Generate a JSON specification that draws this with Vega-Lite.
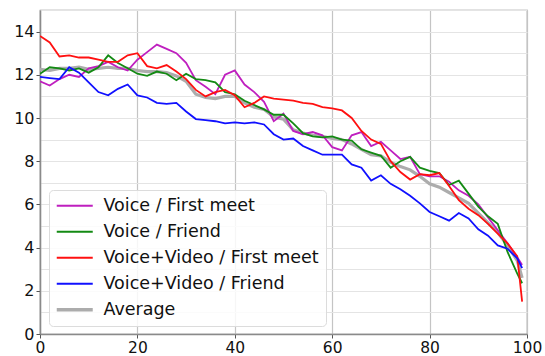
{
  "$schema": "https://vega.github.io/schema/vega-lite/v6.json",
  "width": 487,
  "height": 324,
  "autosize": {"type": "none"},
  "padding": {"left": 40, "top": 10, "right": 18, "bottom": 22},
  "background": "white",
  "config": {
    "font": "DejaVu Sans",
    "view": {"stroke": "#8a8a8a", "strokeWidth": 1.2},
    "axis": {
      "labelFont": "DejaVu Sans",
      "labelFontSize": 16,
      "labelColor": "#111",
      "labelFlush": false,
      "labelOverlap": false,
      "domainColor": "#8a8a8a",
      "domainWidth": 1.5,
      "tickColor": "#555",
      "tickSize": 4,
      "labelPadding": 2,
      "title": null
    },
    "legend": {
      "labelFont": "DejaVu Sans",
      "labelFontSize": 17.5,
      "labelColor": "#111",
      "labelLimit": 400,
      "title": null
    }
  },
  "data": {
    "values": [
      {"x": 0, "vf": 11.7, "vfr": 12.05, "vvf": 13.8, "vvfr": 11.9, "avg": 12.25},
      {"x": 2, "vf": 11.5, "vfr": 12.35, "vvf": 13.5, "vvfr": 11.85, "avg": 12.2},
      {"x": 4, "vf": 11.8, "vfr": 12.3, "vvf": 12.85, "vvfr": 11.8, "avg": 12.3},
      {"x": 6, "vf": 12.0, "vfr": 12.2, "vvf": 12.9, "vvfr": 12.35, "avg": 12.3},
      {"x": 8, "vf": 11.9, "vfr": 12.3, "vvf": 12.8, "vvfr": 12.1, "avg": 12.35},
      {"x": 10, "vf": 12.3, "vfr": 12.1, "vvf": 12.8, "vvfr": 11.65, "avg": 12.25},
      {"x": 12, "vf": 12.4, "vfr": 12.35, "vvf": 12.7, "vvfr": 11.2, "avg": 12.3},
      {"x": 14, "vf": 12.6, "vfr": 12.9, "vvf": 12.6, "vvfr": 11.05, "avg": 12.35},
      {"x": 16, "vf": 12.35, "vfr": 12.55, "vvf": 12.6, "vvfr": 11.35, "avg": 12.3},
      {"x": 18, "vf": 12.2, "vfr": 12.3, "vvf": 12.9, "vvfr": 11.55, "avg": 12.3},
      {"x": 20, "vf": 12.7, "vfr": 12.05, "vvf": 13.0, "vvfr": 11.05, "avg": 12.2},
      {"x": 22, "vf": 13.05, "vfr": 11.95, "vvf": 12.4, "vvfr": 10.95, "avg": 12.15},
      {"x": 24, "vf": 13.4, "vfr": 12.15, "vvf": 12.3, "vvfr": 10.7, "avg": 12.15},
      {"x": 26, "vf": 13.2, "vfr": 12.05, "vvf": 12.45, "vvfr": 10.65, "avg": 12.1},
      {"x": 28, "vf": 13.0, "vfr": 11.75, "vvf": 12.15, "vvfr": 10.7, "avg": 11.95},
      {"x": 30, "vf": 12.55, "vfr": 12.05, "vvf": 11.8, "vvfr": 10.3, "avg": 11.7},
      {"x": 32, "vf": 11.75, "vfr": 11.8, "vvf": 11.3, "vvfr": 9.95, "avg": 11.1},
      {"x": 34, "vf": 11.45, "vfr": 11.75, "vvf": 11.0, "vvfr": 9.9, "avg": 10.95},
      {"x": 36, "vf": 11.1, "vfr": 11.65, "vvf": 11.2, "vvfr": 9.85, "avg": 10.9},
      {"x": 38, "vf": 12.0, "vfr": 11.2, "vvf": 11.3, "vvfr": 9.75, "avg": 11.0},
      {"x": 40, "vf": 12.2, "vfr": 11.1, "vvf": 11.05, "vvfr": 9.8, "avg": 11.0},
      {"x": 42, "vf": 11.55, "vfr": 10.8, "vvf": 10.5, "vvfr": 9.75, "avg": 10.7},
      {"x": 44, "vf": 11.2, "vfr": 10.6, "vvf": 10.7, "vvfr": 9.8, "avg": 10.5},
      {"x": 46, "vf": 10.75, "vfr": 10.4, "vvf": 11.0, "vvfr": 9.7, "avg": 10.4},
      {"x": 48, "vf": 9.85, "vfr": 10.15, "vvf": 10.9, "vvfr": 9.25, "avg": 10.05},
      {"x": 50, "vf": 10.2, "vfr": 10.15, "vvf": 10.85, "vvfr": 9.0, "avg": 9.95},
      {"x": 52, "vf": 9.4, "vfr": 9.75, "vvf": 10.8, "vvfr": 9.05, "avg": 9.45},
      {"x": 54, "vf": 9.25, "vfr": 9.3, "vvf": 10.7, "vvfr": 8.7, "avg": 9.3},
      {"x": 56, "vf": 9.35, "vfr": 9.15, "vvf": 10.65, "vvfr": 8.5, "avg": 9.2},
      {"x": 58, "vf": 9.2, "vfr": 9.1, "vvf": 10.5, "vvfr": 8.3, "avg": 9.15},
      {"x": 60, "vf": 8.65, "vfr": 9.15, "vvf": 10.45, "vvfr": 8.3, "avg": 9.05},
      {"x": 62, "vf": 8.5, "vfr": 9.0, "vvf": 10.35, "vvfr": 8.3, "avg": 9.0},
      {"x": 64, "vf": 9.2, "vfr": 8.95, "vvf": 10.0, "vvfr": 7.85, "avg": 8.8},
      {"x": 66, "vf": 9.35, "vfr": 8.55, "vvf": 9.4, "vvfr": 7.7, "avg": 8.55},
      {"x": 68, "vf": 8.7, "vfr": 8.4, "vvf": 9.0, "vvfr": 7.1, "avg": 8.3},
      {"x": 70, "vf": 8.9, "vfr": 8.25, "vvf": 8.8, "vvfr": 7.35, "avg": 8.25},
      {"x": 72, "vf": 8.5, "vfr": 7.7, "vvf": 8.0, "vvfr": 6.95, "avg": 7.95},
      {"x": 74, "vf": 8.1, "vfr": 8.0, "vvf": 7.5, "vvfr": 6.7, "avg": 7.75},
      {"x": 76, "vf": 8.2, "vfr": 8.2, "vvf": 7.15, "vvfr": 6.4, "avg": 7.6},
      {"x": 78, "vf": 7.4, "vfr": 7.7, "vvf": 7.4, "vvfr": 6.05, "avg": 7.3},
      {"x": 80, "vf": 7.3, "vfr": 7.55, "vvf": 7.35, "vvfr": 5.65, "avg": 6.95},
      {"x": 82, "vf": 7.3, "vfr": 7.45, "vvf": 7.45, "vvfr": 5.45, "avg": 6.8},
      {"x": 84, "vf": 7.05, "vfr": 6.9, "vvf": 6.85, "vvfr": 5.25, "avg": 6.55},
      {"x": 86, "vf": 6.65, "vfr": 7.1, "vvf": 6.2, "vvfr": 5.6, "avg": 6.3},
      {"x": 88, "vf": 6.4, "vfr": 6.5, "vvf": 5.8, "vvfr": 5.35, "avg": 6.05},
      {"x": 90, "vf": 6.0, "vfr": 5.9, "vvf": 5.5, "vvfr": 4.85, "avg": 5.6},
      {"x": 92, "vf": 5.4, "vfr": 5.45, "vvf": 5.1, "vvfr": 4.55, "avg": 5.15},
      {"x": 94, "vf": 4.8, "vfr": 5.1, "vvf": 4.65, "vvfr": 4.1, "avg": 4.7},
      {"x": 96, "vf": 4.2, "vfr": 3.8, "vvf": 4.2, "vvfr": 3.95, "avg": 4.1},
      {"x": 98, "vf": 3.55, "vfr": 2.8, "vvf": 3.6, "vvfr": 3.5, "avg": 3.4},
      {"x": 99, "vf": 3.2, "vfr": 2.35, "vvf": 1.5, "vvfr": 3.05, "avg": 2.6}
    ]
  },
  "transform": [
    {"fold": ["avg", "vf", "vfr", "vvf", "vvfr"], "as": ["s", "y"]}
  ],
  "encoding": {
    "x": {
      "field": "x",
      "type": "quantitative",
      "scale": {"domain": [0, 100], "nice": false},
      "axis": {"values": [0, 20, 40, 60, 80, 100], "grid": true, "gridColor": "#c4c4c4", "gridWidth": 1.2, "labelFontSize": 15.5}
    },
    "y": {
      "field": "y",
      "type": "quantitative",
      "scale": {"domain": [0, 15], "nice": false},
      "axis": {
        "values": [0, 1, 2, 3, 4, 5, 6, 7, 8, 9, 10, 11, 12, 13, 14, 15],
        "grid": true,
        "gridColor": "#e4e4e4",
        "gridWidth": 1,
        "labelExpr": "datum.value % 2 == 0 && datum.value < 15 ? datum.label : ''",
        "tickOpacity": {"condition": {"test": "datum.value % 2 == 1", "value": 0}, "value": 1}
      }
    },
    "color": {
      "field": "s",
      "type": "nominal",
      "scale": {
        "domain": ["vf", "vfr", "vvf", "vvfr", "avg"],
        "range": ["#bf1fbf", "#138a13", "#ff1010", "#1010ff", "#acacac"]
      },
      "legend": {
        "orient": "none",
        "legendX": 9,
        "legendY": 180,
        "direction": "vertical",
        "symbolType": "M-3,0H3",
        "symbolSize": 144,
        "symbolOffset": 10,
        "labelOffset": 20,
        "rowPadding": 7,
        "padding": 7,
        "strokeColor": "#dcdcdc",
        "cornerRadius": 4,
        "fillColor": "rgba(255,255,255,0.85)",
        "labelExpr": "{'vf':'Voice / First meet','vfr':'Voice / Friend','vvf':'Voice+Video / First meet','vvfr':'Voice+Video / Friend','avg':'Average'}[datum.value]",
        "encode": {
          "symbols": {
            "update": {
              "strokeWidth": {"signal": "datum.value === 'avg' ? 3.5 : 2"}
            }
          }
        }
      }
    }
  },
  "layer": [
    {
      "transform": [{"filter": "datum.s === 'avg'"}],
      "mark": {"type": "line", "clip": true, "strokeWidth": 3.2}
    },
    {
      "transform": [{"filter": "datum.s !== 'avg'"}],
      "mark": {"type": "line", "clip": true, "strokeWidth": 1.8}
    }
  ]
}
